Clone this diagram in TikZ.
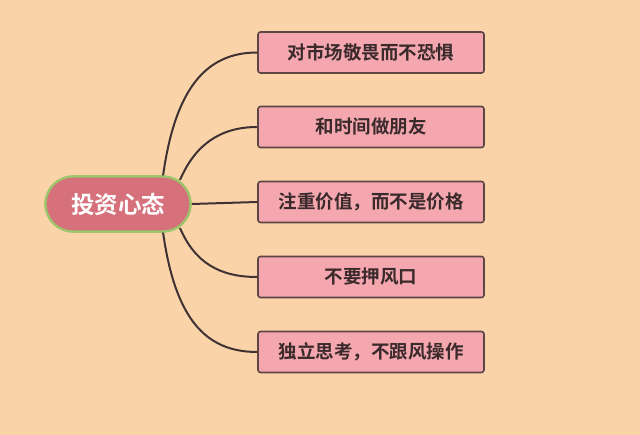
\documentclass[tikz,border=0pt]{standalone}
\usepackage{fontspec}
\newfontfamily\cjk[BoldFont={Noto Sans CJK SC Bold}]{Noto Sans CJK SC}
\usetikzlibrary{shapes.misc}
\definecolor{bg}{HTML}{FAD3A8}
\definecolor{boxfill}{HTML}{F4A7AE}
\definecolor{boxline}{HTML}{5E4646}
\definecolor{rootfill}{HTML}{D6717B}
\definecolor{rootline}{HTML}{9CC46A}
\definecolor{txt}{HTML}{3A2A2C}
\definecolor{conn}{HTML}{3E3232}
\tikzset{
  leaf/.style={draw=boxline, line width=1.6pt, fill=boxfill, rounded corners=2.5pt,
    minimum width=226pt, minimum height=41pt, inner sep=0pt,
    font=\cjk\bfseries\fontsize{18.5}{20}\selectfont, text=txt},
  root/.style={rounded rectangle, draw=rootline, line width=2.2pt, fill=rootfill,
    minimum width=145pt, minimum height=55pt, inner sep=0pt,
    font=\cjk\bfseries\fontsize{23.5}{25}\selectfont, text=white},
  link/.style={draw=conn, line width=2pt}
}
\begin{document}
\begin{tikzpicture}[x=1pt,y=-1pt]
\fill[bg] (0,0) rectangle (640,435);
\useasboundingbox (0,0) rectangle (640,435);
\node[root] (c) at (118,204) {投资心态};
\node[leaf] (b1) at (371,52.5) {对市场敬畏而不恐惧};
\node[leaf] (b2) at (371,127) {和时间做朋友};
\node[leaf] (b3) at (371,202) {注重价值，而不是价格};
\node[leaf] (b4) at (371,277) {不要押风口};
\node[leaf] (b5) at (371,352) {独立思考，不跟风操作};
\coordinate (s1) at (163,176);
\coordinate (s2) at (180,180);
\coordinate (s4) at (180,228);
\coordinate (s5) at (163,232);
\draw[link] (s1) .. controls (175,90) and (205,52.5) .. (b1.west);
\draw[link] (s2) .. controls (195,145) and (220,127) .. (b2.west);
\draw[link] (c.east) -- (b3.west);
\draw[link] (s4) .. controls (195,263) and (220,277) .. (b4.west);
\draw[link] (s5) .. controls (175,318) and (205,352) .. (b5.west);
\node[root] at (c) {投资心态};
\end{tikzpicture}
\end{document}
